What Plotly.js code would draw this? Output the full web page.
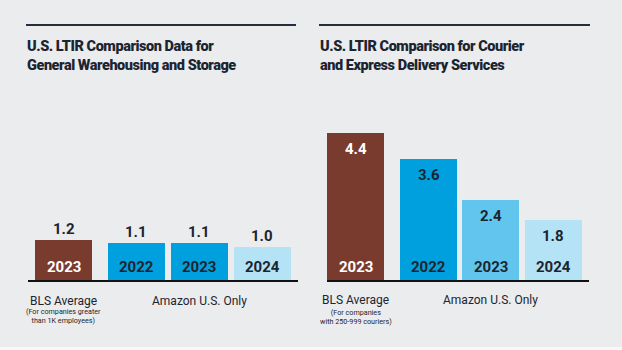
<!DOCTYPE html>
<html>
<head>
<meta charset="utf-8">
<script src="https://cdn.plot.ly/plotly-3.0.1.min.js"></script>
<style>
html,body{margin:0;padding:0;background:#ebecee;}
#chart{width:622px;height:350px;}
g.annotation[data-index="0"] text, g.annotation[data-index="1"] text{letter-spacing:-0.45px;}
</style>
</head>
<body>
<div id="chart"></div>
<script>
// ---- data ----
const leftTitle = "U.S. LTIR Comparison Data for<br>General Warehousing and Storage";
const rightTitle = "U.S. LTIR Comparison for Courier<br>and Express Delivery Services";
const years = ["2023", "2022", "2023", "2024"];
const leftValues = [1.2, 1.1, 1.1, 1.0];
const rightValues = [4.4, 3.6, 2.4, 1.8];
const groupLabels = ["BLS Average", "Amazon U.S. Only"];
const leftNote = ["(For companies greater", "than 1K employees)"];
const rightNote = ["(For companies", "with 250-999 couriers)"];

// ---- styles ----
const leftColors = ["#7a3b2f", "#00a0de", "#00a0de", "#b4e3f6"];
const rightColors = ["#7a3b2f", "#00a0de", "#62c5ee", "#b4e3f6"];
const yearColors = ["#ffffff", "#1b2530", "#1b2530", "#1b2530"];
const dark = "#1b2530";
const W = 622, H = 350;
const px = v => v / W;
const py = v => 1 - v / H;

function positions(gap) { return years.map((_, i) => i === 0 ? 0 : i + gap); }
const posL = positions(0.15);
const posR = positions(0.167);

const traces = [
  {type: "bar", x: posL, y: leftValues, width: 0.905, marker: {color: leftColors, line: {width: 0}},
   xaxis: "x", yaxis: "y", hoverinfo: "none"},
  {type: "bar", x: posR, y: rightValues, width: 0.913, marker: {color: rightColors, line: {width: 0}},
   xaxis: "x2", yaxis: "y2", hoverinfo: "none"}
];

const numFont = (c, s, w) => ({family: "Roboto, sans-serif", size: s, color: c, weight: w || 700});
const regFont = (s) => ({family: "Roboto, sans-serif", size: s, color: dark});

const ann = [];
// titles
ann.push({xref: "paper", yref: "paper", x: px(25), y: py(56), xanchor: "left", yanchor: "middle",
  text: leftTitle, showarrow: false, align: "left", font: numFont(dark, 14.5, 900)});
ann.push({xref: "paper", yref: "paper", x: px(318), y: py(56), xanchor: "left", yanchor: "middle",
  text: rightTitle, showarrow: false, align: "left", font: numFont(dark, 14.5, 900)});

function panel(pos, vals, xa, ya, valInside, valColors, note, subY) {
  vals.forEach((v, i) => {
    ann.push({xref: xa, yref: ya, x: pos[i], y: v, text: v.toFixed(1), showarrow: false,
      yanchor: "middle", yshift: valInside ? -16 : 11, font: numFont(valColors[i], 15)});
    ann.push({xref: xa, yref: ya, x: pos[i], y: 0, text: years[i], showarrow: false,
      yanchor: "middle", yshift: 13, font: numFont(yearColors[i], 15)});
  });
  ann.push({xref: xa, yref: ya, x: pos[0], y: 0, text: groupLabels[0], showarrow: false,
    yanchor: "middle", yshift: subY[0], font: regFont(12)});
  ann.push({xref: xa, yref: ya, x: pos[2], y: 0, text: groupLabels[1], showarrow: false,
    yanchor: "middle", yshift: subY[0], font: regFont(12)});
  ann.push({xref: xa, yref: ya, x: pos[0], y: 0, text: note.join("<br>"), showarrow: false,
    yanchor: "middle", yshift: subY[1], font: regFont(7.2)});
}
panel(posL, leftValues, "x", "y", false, [dark, dark, dark, dark], leftNote, [-21, -35.5]);
panel(posR, rightValues, "x2", "y2", true, ["#ffffff", dark, dark, dark], rightNote, [-20, -36.5]);

const shapes = [
  {type: "line", xref: "paper", yref: "paper", x0: px(26), x1: px(296), y0: py(25), y1: py(25),
   line: {color: "#232f3e", width: 2}},
  {type: "line", xref: "paper", yref: "paper", x0: px(319), x1: px(590), y0: py(25), y1: py(25),
   line: {color: "#232f3e", width: 2}},
  {type: "line", xref: "paper", yref: "paper", x0: 0, x1: 1, y0: py(348.5), y1: py(348.5),
   line: {color: "#f8f8f9", width: 3}}
];

const yr = [0, 180 / 33.5];
const axX = (dom, rng) => ({domain: dom, range: rng, showgrid: false, zeroline: false, showticklabels: false,
  ticks: "", showline: true, linecolor: "#111111", linewidth: 2, fixedrange: true});
const axY = () => ({domain: [py(280), py(100)], range: yr, showgrid: false, zeroline: false,
  showticklabels: false, ticks: "", showline: false, fixedrange: true});

const layout = {
  width: W, height: H,
  margin: {l: 0, r: 0, t: 0, b: 0},
  paper_bgcolor: "#ebecee", plot_bgcolor: "rgba(0,0,0,0)",
  showlegend: false,
  bargap: 0,
  xaxis: Object.assign(axX([px(28), px(298)], [-0.571, 3.714]), {anchor: "y"}),
  yaxis: Object.assign(axY(), {anchor: "x"}),
  xaxis2: Object.assign(axX([px(327), px(589)], [-0.46, 3.739]), {anchor: "y2"}),
  yaxis2: Object.assign(axY(), {anchor: "x2"}),
  annotations: ann,
  shapes: shapes
};

Plotly.newPlot("chart", traces, layout, {displayModeBar: false, staticPlot: true});
</script>
</body>
</html>
